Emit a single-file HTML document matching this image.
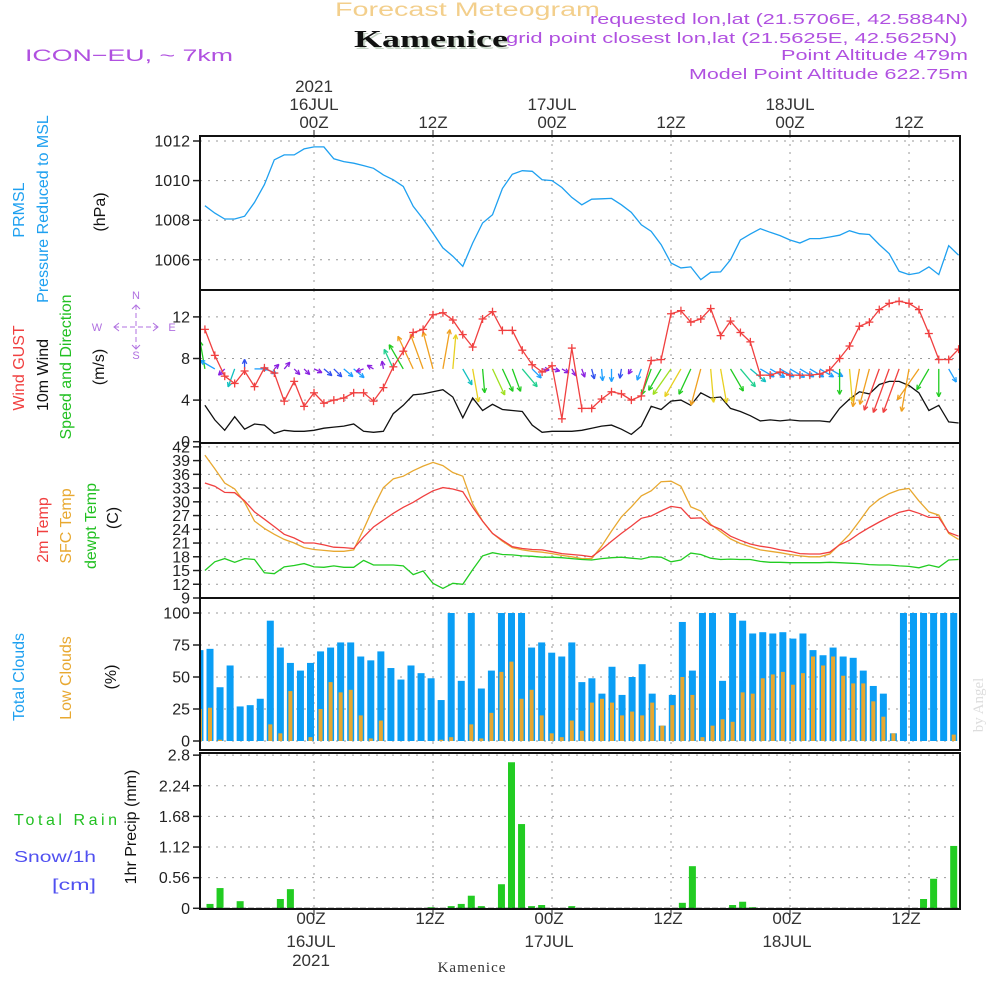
<!DOCTYPE html>
<html><head><meta charset="utf-8">
<style>
html,body{margin:0;padding:0;background:#fff;}
svg{display:block;font-family:"Liberation Sans",sans-serif;}
.tk{font-size:16px;fill:#222;}
.gl{stroke:#9a9a9a;stroke-width:1;stroke-dasharray:2,6;fill:none;}
</style></head>
<body>
<svg id="chart" width="1000" height="1000" viewBox="0 0 1000 1000" xmlns="http://www.w3.org/2000/svg">
<defs>
<clipPath id="c1"><rect x="200" y="136" width="760" height="154"/></clipPath>
<clipPath id="c2"><rect x="200" y="290" width="760" height="153"/></clipPath>
<clipPath id="c3"><rect x="200" y="443" width="760" height="155"/></clipPath>
<clipPath id="c4"><rect x="200" y="598" width="760" height="152"/></clipPath>
<clipPath id="c5"><rect x="200" y="753" width="760" height="156"/></clipPath>
</defs>
<!-- header -->
<text x="335" y="16" font-size="19" fill="#f3cf8c" textLength="265" lengthAdjust="spacingAndGlyphs">Forecast Meteogram</text>
<text x="356" y="49" font-size="24" font-weight="bold" font-family="Liberation Serif,serif" fill="#c8d6c8" textLength="154" lengthAdjust="spacingAndGlyphs">Kamenice</text>
<text x="354" y="47" font-size="24" font-weight="bold" font-family="Liberation Serif,serif" fill="#111" textLength="154" lengthAdjust="spacingAndGlyphs">Kamenice</text>
<text x="590" y="24" font-size="15" fill="#b050e0" textLength="378" lengthAdjust="spacingAndGlyphs">requested lon,lat (21.5706E, 42.5884N)</text>
<text x="506" y="43" font-size="15" fill="#b050e0" textLength="451" lengthAdjust="spacingAndGlyphs">grid point closest lon,lat (21.5625E, 42.5625N)</text>
<text x="781" y="60" font-size="15" fill="#b050e0" textLength="187" lengthAdjust="spacingAndGlyphs">Point Altitude 479m</text>
<text x="689" y="79" font-size="15" fill="#b050e0" textLength="279" lengthAdjust="spacingAndGlyphs">Model Point Altitude 622.75m</text>
<text x="25" y="61" font-size="17" fill="#b050e0" textLength="208" lengthAdjust="spacingAndGlyphs">ICON−EU, ~ 7km</text>
<text x="983" y="705" font-size="15" fill="#ddd" font-family="Liberation Serif,serif" transform="rotate(-90 983 705)" text-anchor="middle">by Angel</text>

<!-- left labels -->
<g font-size="16">
<text transform="translate(24,210) rotate(-90)" text-anchor="middle" fill="#1ea0f0">PRMSL</text>
<text transform="translate(48,209) rotate(-90)" text-anchor="middle" fill="#1ea0f0">Pressure Reduced to MSL</text>
<text transform="translate(105,212) rotate(-90)" text-anchor="middle" fill="#111">(hPa)</text>
<text transform="translate(24,368) rotate(-90)" text-anchor="middle" fill="#f04040">Wind GUST</text>
<text transform="translate(48,375) rotate(-90)" text-anchor="middle" fill="#111">10m Wind</text>
<text transform="translate(71,367) rotate(-90)" text-anchor="middle" fill="#22c022">Speed and Direction</text>
<text transform="translate(104,367) rotate(-90)" text-anchor="middle" fill="#111">(m/s)</text>
<text transform="translate(48,530) rotate(-90)" text-anchor="middle" fill="#f04040">2m Temp</text>
<text transform="translate(71,526) rotate(-90)" text-anchor="middle" fill="#e8a830">SFC Temp</text>
<text transform="translate(96,526) rotate(-90)" text-anchor="middle" fill="#22c022">dewpt Temp</text>
<text transform="translate(118,518) rotate(-90)" text-anchor="middle" fill="#111">(C)</text>
<text transform="translate(24,677) rotate(-90)" text-anchor="middle" fill="#1ea0f0">Total Clouds</text>
<text transform="translate(71,678) rotate(-90)" text-anchor="middle" fill="#e8a830">Low Clouds</text>
<text transform="translate(116,677) rotate(-90)" text-anchor="middle" fill="#111">(%)</text>
<text transform="translate(136,827) rotate(-90)" text-anchor="middle" fill="#111">1hr Precip (mm)</text>
<text x="14" y="825" fill="#22c022" textLength="103" lengthAdjust="spacing">Total   Rain</text>
<text x="14" y="862" fill="#5050f0" textLength="82" lengthAdjust="spacingAndGlyphs">Snow/1h</text>
<text x="52" y="890" fill="#5050f0" textLength="44" lengthAdjust="spacingAndGlyphs">[cm]</text>
</g>
<!-- compass -->
<g fill="#b070e0" stroke="#b070e0" font-size="11">
<text x="136" y="299" text-anchor="middle" stroke="none">N</text>
<text x="136" y="359" text-anchor="middle" stroke="none">S</text>
<text x="97" y="331" text-anchor="middle" stroke="none">W</text>
<text x="172" y="331" text-anchor="middle" stroke="none">E</text>
<line x1="114" y1="327" x2="158" y2="327" stroke-width="1" stroke-dasharray="5,3"/>
<line x1="136" y1="305" x2="136" y2="349" stroke-width="1" stroke-dasharray="5,3"/>
<polyline points="119,323 114,327 119,331" fill="none" stroke-width="1"/>
<polyline points="153,323 158,327 153,331" fill="none" stroke-width="1"/>
<polyline points="132,309 136,305 140,309" fill="none" stroke-width="1"/>
<polyline points="132,345 136,349 140,345" fill="none" stroke-width="1"/>
</g>
<g id="layer"></g>
</svg>
<script>
// ---------- data (hourly, vertex k -> hour k-11 from 00Z 16JUL) ----------
const pressure = [1008.73,1008.36,1008.06,1008.06,1008.2,1008.9,1009.8,1011.05,1011.3,1011.3,1011.6,1011.7,1011.7,1011.1,1010.96,1010.88,1010.76,1010.62,1010.29,1010.04,1009.7,1008.7,1008.06,1007.35,1006.6,1006.18,1005.67,1006.85,1007.86,1008.28,1009.6,1010.32,1010.5,1010.47,1010.04,1010.0,1009.65,1009.15,1008.78,1009.06,1009.08,1009.1,1008.78,1008.4,1007.77,1007.44,1006.77,1005.84,1005.59,1005.64,1005.0,1005.37,1005.39,1006.0,1007.0,1007.3,1007.57,1007.39,1007.22,1007.0,1006.85,1007.07,1007.07,1007.15,1007.24,1007.47,1007.32,1007.28,1006.77,1006.31,1005.42,1005.25,1005.34,1005.64,1005.25,1006.71,1006.23];
const gust = [10.8,8.3,6.3,5.6,6.8,5.3,7.1,6.6,3.9,5.8,3.4,4.7,3.7,4.0,4.2,4.7,4.7,3.9,5.2,7.2,8.7,10.5,10.8,12.2,12.4,11.7,10.3,9.1,11.8,12.5,10.7,10.7,8.8,7.4,6.7,7.3,2.2,9.0,3.2,3.2,4.1,4.8,4.6,4.0,4.4,7.8,7.9,12.3,12.6,11.5,11.8,12.8,10.2,11.6,10.5,9.6,6.4,6.4,6.7,6.4,6.4,6.4,6.5,6.9,8.0,9.2,11.1,11.5,12.7,13.3,13.5,13.3,12.7,10.4,7.9,7.9,8.9];
const windSpeed = [3.5,2.1,1.1,2.4,1.2,1.7,1.6,0.8,1.1,1.0,1.0,1.1,1.3,1.4,1.5,1.7,1.0,0.9,1.0,2.7,3.5,4.5,4.6,4.8,5.0,4.3,2.3,4.2,3.0,3.6,3.1,3.0,2.9,1.6,0.9,1.0,1.0,1.0,1.1,1.3,1.5,1.6,1.2,0.7,1.5,3.4,3.1,3.9,4.0,3.5,4.7,4.2,4.3,3.2,2.9,2.5,2.0,2.1,2.0,2.1,2.0,2.0,2.0,1.9,3.2,4.1,4.8,4.6,5.5,5.8,5.8,5.4,4.7,3.0,3.5,1.9,1.8];
const windHeading = [350,300,225,200,0,90,110,45,40,135,135,115,130,135,130,130,250,300,350,335,330,335,340,345,10,5,150,170,175,155,155,160,140,135,100,105,120,150,160,165,175,180,190,210,200,200,210,215,210,205,195,175,170,150,140,130,120,120,120,120,120,120,120,120,180,175,190,195,200,200,200,190,215,210,180,150,120];
const temp2m = [34.1,33.4,32.05,32.0,30.2,27.8,26.2,24.6,22.9,22.1,21.0,21.0,20.6,20.1,20.0,19.8,22.3,24.5,26.0,27.5,28.8,29.9,31.2,32.4,33.1,32.8,32.2,28.8,25.8,23.1,21.6,20.2,19.8,19.6,19.5,19.1,18.7,18.5,18.3,18.0,19.6,21.4,23.1,24.7,26.4,26.9,28.0,29.0,28.7,26.4,26.5,24.9,24.0,22.5,21.6,20.8,20.3,20.0,19.5,19.2,18.7,18.6,18.6,19.0,20.6,21.6,23.1,24.4,25.6,26.7,27.7,28.2,27.5,26.6,26.6,23.3,22.5];
const tempSfc = [40.2,37.2,34.1,32.8,29.9,25.8,24.2,22.9,21.8,21.0,20.0,19.6,19.4,19.2,19.2,19.5,24.0,28.8,33.1,35.0,35.6,36.8,37.8,38.6,37.9,36.4,35.6,29.5,25.8,23.1,21.4,20.0,19.5,19.2,19.0,18.7,18.3,18.0,17.6,17.6,20.3,23.6,26.7,28.9,31.3,32.4,34.4,34.5,33.4,28.9,28.0,25.1,23.5,21.9,20.9,20.2,19.5,19.2,18.9,18.5,18.2,18.0,18.0,18.6,20.7,22.9,25.8,28.8,30.6,31.8,32.6,32.9,30.2,27.8,27.1,23.1,21.8];
const tempDew = [15.0,16.9,17.6,16.8,17.6,17.4,14.5,14.3,15.8,16.1,16.5,15.8,15.7,16.0,15.7,15.7,17.2,16.2,16.2,16.2,16.0,14.1,14.9,12.2,11.1,12.2,12.0,15.2,18.2,18.9,18.5,18.4,18.2,18.1,17.9,17.9,17.8,17.6,17.4,17.3,17.6,17.8,17.9,17.7,17.5,18.0,17.9,16.9,17.3,18.8,18.5,17.7,17.4,17.5,17.4,17.4,17.0,16.8,16.8,16.7,16.7,16.7,16.7,16.8,16.7,16.6,16.5,16.3,16.2,16.2,16.0,15.9,15.6,16.2,15.7,17.3,17.4];
// bars: index i -> bar slot i-1
const totalClouds = [71,72,42,59,27,28,33,94,73,61,55,61,70,73,77,77,66,63,70,57,48,59,53,49,32,100,47,100,41,55,100,100,100,73,77,69,66,77,46,49,37,58,36,50,60,37,12,36,93,55,100,100,47,100,94,84,85,84,85,80,84,71,67,73,66,65,55,43,37,6,100,100,100,100,100,100,100];
const lowClouds = [25,26,1,0,0,0,0,13,6,39,0,3,25,46,38,40,20,2,16,0,0,0,0,0,1,3,0,13,2,22,54,62,33,40,20,6,3,16,8,30,33,30,20,23,20,30,12,28,50,36,3,12,17,15,38,37,49,52,54,44,53,66,59,66,51,45,45,31,19,6,0,0,0,0,0,5,41];
const precip = [0,0.08,0.37,0,0.13,0,0,0,0.17,0.35,0,0,0,0,0,0,0,0,0,0,0,0,0,0.02,0,0.04,0.08,0.23,0.04,0,0.44,2.67,1.54,0.04,0.06,0,0,0.04,0,0,0,0,0,0,0,0,0,0,0.1,0.77,0,0,0,0.06,0.12,0.02,0,0,0,0,0,0,0,0,0,0,0,0,0,0,0,0,0.17,0.54,0,1.14,0.1];
// axis ticks
const pTicks = [1006,1008,1010,1012];
const wTicks = [0,4,8,12];
const tTicks = [9,12,15,18,21,24,27,30,33,36,39,42];
const cTicks = [0,25,50,75,100];
const rTicks = [0,0.56,1.12,1.68,2.24,2.8];
const rTickLabels = ["0","0.56","1.12","1.68","2.24","2.8"];
const timeHours = [0,12,24,36,48,60];
const timeLabels = ["00Z","12Z","00Z","12Z","00Z","12Z"];
const dayLabels = ["16JUL","","17JUL","","18JUL",""];
const yearLabels = ["2021","","","","",""];

// ---------- scales ----------
const xT = h => 314 + 9.917*h;
const xV = k => xT(k-11);
const xB = i => 195.95 + 10.05*i;
const yP = v => 141 + (1012-v)*19.8;
const yW = v => 441.7 - v*10.4;
const yTc = v => 598 - (v-9)*4.58;
const yC = v => 741 - v*1.28;
const yR = v => 908.3 - v*54.7;

const NS="http://www.w3.org/2000/svg";
const layer=document.getElementById('layer');
function mk(tag, attrs, parent){const e=document.createElementNS(NS,tag);for(const k in attrs)e.setAttribute(k,attrs[k]);(parent||layer).appendChild(e);return e;}

const panels=[
 {name:'pressure',y0:136,y1:290,clip:'c1',ticks:pTicks,labels:pTicks.map(String),ys:yP},
 {name:'wind',y0:290,y1:443,clip:'c2',ticks:wTicks,labels:wTicks.map(String),ys:yW},
 {name:'temperature',y0:443,y1:598,clip:'c3',ticks:tTicks,labels:tTicks.map(String),ys:yTc},
 {name:'clouds',y0:598,y1:750,clip:'c4',ticks:cTicks,labels:cTicks.map(String),ys:yC},
 {name:'precip',y0:753,y1:909,clip:'c5',ticks:rTicks,labels:rTickLabels,ys:yR}
];
panels.forEach(p=>{
  const g=mk('g',{});
  
  
  p.ticks.forEach((t,i)=>{
    const y=p.ys(t);
    if(y>p.y0+2&&y<p.y1-2){const l=mk('line',{x1:200,x2:960,y1:y,y2:y,class:'gl'},g);}
    const tk=mk('line',{x1:193,x2:200,y1:y,y2:y,stroke:'#222','stroke-width':1.5},g);
    const tx=mk('text',{x:190,y:y+5.5,'text-anchor':'end',class:'tk'},g);
    tx.textContent=p.labels[i];
    
    
  });
  timeHours.forEach(h=>{mk('line',{x1:xT(h),x2:xT(h),y1:p.y0,y2:p.y1,class:'gl'},g);});
});

// time axes
const ta=mk('g',{fill:'#333','font-size':'17','text-anchor':'middle'});


timeHours.forEach((h,i)=>{
  const x=xT(h);
  mk('line',{x1:x,x2:x,y1:130,y2:136,stroke:'#222','stroke-width':1},ta);
  mk('line',{x1:x,x2:x,y1:909,y2:915,stroke:'#222','stroke-width':1},ta);
  const t1=mk('text',{x:x,y:128},ta);t1.textContent=timeLabels[i];
  
  
  const b1=mk('text',{x:x-3,y:924},ta);b1.textContent=timeLabels[i];
  
  
  if(dayLabels[i]){
    const t2=mk('text',{x:x,y:110},ta);t2.textContent=dayLabels[i];
    
    
    const b2=mk('text',{x:x-3,y:947},ta);b2.textContent=dayLabels[i];
    
    
  }
  if(yearLabels[i]){
    const t3=mk('text',{x:x,y:92},ta);t3.textContent=yearLabels[i];
    
    
    const b3=mk('text',{x:x-3,y:966},ta);b3.textContent=yearLabels[i];
    
    
  }
});
const kb=mk('text',{x:472,y:972,'text-anchor':'middle','font-size':'15','font-family':'Liberation Serif,serif',fill:'#333','letter-spacing':'1'});
kb.textContent='Kamenice';



function line(arr,xs,ys,color,clip,name){
  const pts=arr.map((v,k)=>xs(k).toFixed(1)+','+ys(v).toFixed(1)).join(' ');
  const pl=mk('polyline',{points:pts,fill:'none',stroke:color,'stroke-width':1.3,'clip-path':'url(#'+clip+')'});
  
  
  return pl;
}
// pressure
line(pressure,xV,yP,'#1ea0f0','c1','pressure-line');
// temps
line(tempSfc,xV,yTc,'#e8a830','c3','sfc-temp-line');
line(temp2m,xV,yTc,'#f04040','c3','2m-temp-line');
line(tempDew,xV,yTc,'#22cc22','c3','dewpt-temp-line');
// wind
line(windSpeed,xV,yW,'#111','c2','wind-speed-line');
function windColor(s){
  if(s<1.2)return '#8a20e0';if(s<1.5)return '#3050f0';if(s<2.2)return '#1ea0ff';
  if(s<2.7)return '#10c0c0';if(s<3.0)return '#20d090';if(s<3.6)return '#20cc20';
  if(s<4.0)return '#a0e020';if(s<4.5)return '#e8d020';if(s<5.5)return '#f0a020';return '#f04040';
}
const wg=mk('g',{'clip-path':'url(#c2)'});


const baseY=yW(7);
windHeading.forEach((hd,k)=>{
  const s=windSpeed[k];const L=Math.max(6,8*s);const a=hd*Math.PI/180;
  const x0=xV(k),y0=baseY,x1=x0+L*Math.sin(a),y1=y0-L*Math.cos(a);
  const c=windColor(s);
  const g=mk('g',{stroke:c,'stroke-width':1.3,fill:'none'},wg);
  
  
  mk('line',{x1:x0,y1:y0,x2:x1,y2:y1},g);
  const back=a+Math.PI;
  [0.45,-0.45].forEach(d=>{mk('line',{x1:x1,y1:y1,x2:x1+5*Math.sin(back+d),y2:y1-5*Math.cos(back+d)},g);});
});
line(gust,xV,yW,'#f04040','c2','wind-gust-line');
const gm=mk('g',{stroke:'#f04040','stroke-width':1.3,'clip-path':'url(#c2)'});


gust.forEach((v,k)=>{const x=xV(k),y=yW(v);
  mk('line',{x1:x-4,x2:x+4,y1:y,y2:y},gm);mk('line',{x1:x,x2:x,y1:y-4,y2:y+4},gm);});
// clouds
const cg=mk('g',{'clip-path':'url(#c4)'});


totalClouds.forEach((v,i)=>{
  const r=mk('rect',{x:xB(i)+0.5,y:yC(v),width:7,height:yC(0)-yC(v),fill:'#0a9ef5'},cg);
  
  
  const lv=lowClouds[i];
  if(lv>0){const r2=mk('rect',{x:xB(i)+2,y:yC(lv),width:4,height:yC(0)-yC(lv),fill:'#e8a830'},cg);
  
  }
});
// precip
const pg=mk('g',{'clip-path':'url(#c5)'});


precip.forEach((v,i)=>{ if(v<=0)return;
  const r=mk('rect',{x:xB(i)+0.5,y:yR(v),width:7,height:yR(0)-yR(v),fill:'#22cc22'},pg);
  
  
});
mk('line',{x1:200,x2:960,y1:908.5,y2:908.5,stroke:'#222','stroke-width':1.5,'stroke-dasharray':'6,2'});
// frames
panels.forEach(p=>{
  const fr=mk('rect',{x:200,y:p.y0,width:760,height:p.y1-p.y0,fill:'none',stroke:'#111','stroke-width':2});
  
  
});
</script>
</body></html>
